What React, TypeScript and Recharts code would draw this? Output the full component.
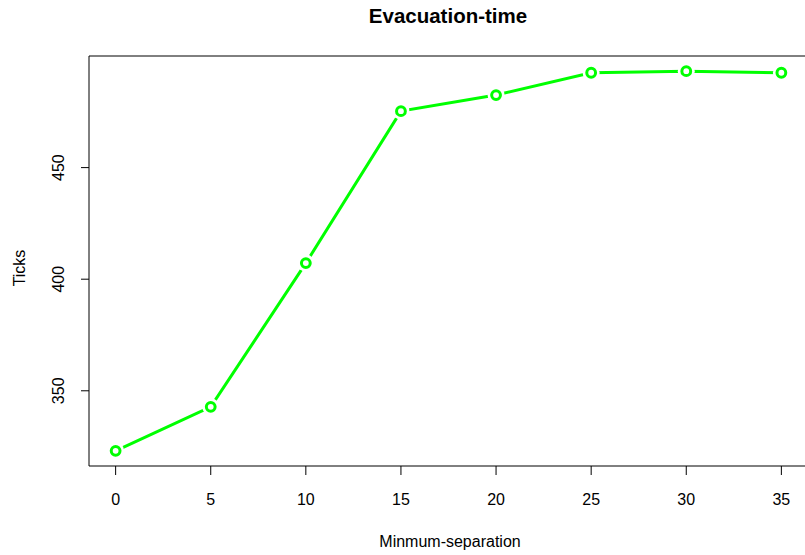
import { Line, LineChart, ReferenceArea, XAxis, YAxis } from "recharts";

const separation = [0, 5, 10, 15, 20, 25, 30, 35];
const evacuationTicks = [323.1, 342.8, 407.2, 475.3, 482.5, 492.5, 493.2, 492.5];
const xTicks = [0, 5, 10, 15, 20, 25, 30, 35];
const yTicks = [350, 400, 450];

const X_DOMAIN: [number, number] = [-1.4, 36.4];
const Y_DOMAIN: [number, number] = [316.3, 500.0];

const GREEN = "#00ff00";
const FONT = "'Liberation Sans', Arial, Helvetica, sans-serif";

const data = separation.map((sep, i) => ({ sep, ticks: evacuationTicks[i] }));

function XTick(props: any) {
  const { x, payload } = props;
  return (
    <text x={x} y={505} textAnchor="middle" fontSize={16} fontFamily={FONT} fill="#000">
      {payload.value}
    </text>
  );
}

function YTick(props: any) {
  const { y, payload } = props;
  return (
    <text
      transform={`translate(64,${y}) rotate(-90)`}
      textAnchor="middle"
      fontSize={16}
      fontFamily={FONT}
      fill="#000"
    >
      {payload.value}
    </text>
  );
}

// R-style type="b" point: open circle with a small gap where the line meets it
function OpenDot(props: any) {
  const { cx, cy, index } = props;
  if (cx == null || cy == null) {
    return <g key={`dot-${index}`} />;
  }
  return (
    <g key={`dot-${index}`}>
      <circle cx={cx} cy={cy} r={8.5} fill="#fff" stroke="none" />
      <circle cx={cx} cy={cy} r={4.4} fill="#fff" stroke={GREEN} strokeWidth={3} />
    </g>
  );
}

export default function App() {
  return (
    <div style={{ position: "absolute", left: 0, top: 0, width: 805, height: 555, overflow: "hidden", background: "#fff" }}>
      <LineChart width={820} height={555} data={data} margin={{ top: 56, right: 12, bottom: 0, left: 0 }}>
        <XAxis
          dataKey="sep"
          type="number"
          domain={X_DOMAIN}
          ticks={xTicks}
          allowDataOverflow
          axisLine={false}
          tickLine={{ stroke: "#000", strokeWidth: 1 }}
          tickSize={9}
          height={89}
          tick={<XTick />}
        />
        <YAxis
          type="number"
          domain={Y_DOMAIN}
          ticks={yTicks}
          allowDataOverflow
          axisLine={false}
          tickLine={{ stroke: "#000", strokeWidth: 1 }}
          tickSize={8}
          width={89}
          tick={<YTick />}
        />
        <ReferenceArea
          x1={X_DOMAIN[0]}
          x2={X_DOMAIN[1]}
          y1={Y_DOMAIN[0]}
          y2={Y_DOMAIN[1]}
          fill="none"
          fillOpacity={0}
          stroke="#000"
          strokeWidth={1}
          strokeOpacity={1}
          ifOverflow="visible"
        />
        <Line
          type="linear"
          dataKey="ticks"
          stroke={GREEN}
          strokeWidth={3}
          dot={OpenDot}
          activeDot={false}
          isAnimationActive={false}
        />
      </LineChart>
      <svg
        width={805}
        height={555}
        style={{ position: "absolute", left: 0, top: 0, pointerEvents: "none" }}
      >
        <text x={448} y={23} textAnchor="middle" fontSize={20.5} fontWeight="bold" fontFamily={FONT} fill="#000">
          Evacuation-time
        </text>
        <text x={450} y={547} textAnchor="middle" fontSize={16} fontFamily={FONT} fill="#000">
          Minmum-separation
        </text>
        <text
          transform="translate(25,268) rotate(-90)"
          textAnchor="middle"
          fontSize={16}
          fontFamily={FONT}
          fill="#000"
        >
          Ticks
        </text>
      </svg>
    </div>
  );
}
